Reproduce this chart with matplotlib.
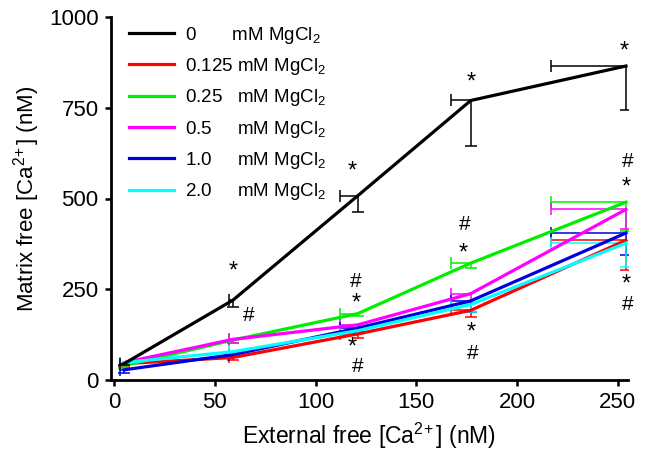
import numpy as np
import matplotlib
matplotlib.use("Agg")
import matplotlib.pyplot as plt

plt.rcParams['font.family'] = ['Liberation Sans', 'DejaVu Sans']
plt.rcParams['mathtext.fontset'] = 'custom'
plt.rcParams['mathtext.rm'] = 'Liberation Sans'
plt.rcParams['mathtext.it'] = 'Liberation Sans:italic'
plt.rcParams['mathtext.bf'] = 'Liberation Sans:bold'

# ---- data ----
x_ext = [5, 59, 121, 177, 254]
series_labels = ["0", "0.125", "0.25", "0.5", "1.0", "2.0"]
series_colors = ["#000000", "#ff0000", "#00ee00", "#ff00ff", "#0000dd", "#00ffff"]

y_0 = [45, 220, 508, 770, 865]
y_0125 = [45, 62, 127, 192, 385]
y_025 = [40, 110, 183, 322, 490]
y_05 = [48, 112, 152, 238, 470]
y_10 = [28, 70, 143, 218, 405]
y_20 = [48, 78, 136, 208, 377]

yerr_0 = [5, 20, 45, 125, 122]
yerr_0125 = [8, 8, 10, 18, 82]
yerr_025 = [8, 8, 8, 14, 80]
yerr_05 = [8, 10, 12, 25, 55]
yerr_10 = [8, 8, 12, 30, 60]
yerr_20 = [8, 8, 10, 22, 65]

xerr_0 = [2, 2, 9, 10, 37]
xerr_col = [2, 2, 9, 10, 37]

ys = [y_0, y_0125, y_025, y_05, y_10, y_20]
yerrs = [yerr_0, yerr_0125, yerr_025, yerr_05, yerr_10, yerr_20]
xerrs = [xerr_0, xerr_col, xerr_col, xerr_col, xerr_col, xerr_col]

# significance marks
mark_x = [59, 67, 118, 120, 120, 118, 121, 177, 174, 173, 177, 178, 253, 255, 254, 254, 255]
mark_y = [298, 179, 574, 272, 210, 90, 36, 819, 429, 348, 131, 72, 904, 603, 530, 264, 207]
mark_s = ["*", "#", "*", "#", "*", "*", "#", "*", "#", "*", "*", "#", "*", "#", "*", "*", "#"]

xticks = [0, 50, 100, 150, 200, 250]
yticks = [0, 250, 500, 750, 1000]

# ---- figure ----
fig = plt.figure(figsize=(6.48, 4.66), dpi=100)
ax = fig.add_axes([111/648, 1-380/466, (628-111)/648, (380-17)/466])

x = np.array(x_ext, dtype=float)
order = [1, 2, 3, 4, 5, 0]
handles = {}
for i in order:
    y = np.array(ys[i], dtype=float)
    ye = np.array(yerrs[i], dtype=float)
    xe = np.array(xerrs[i], dtype=float)
    cont = ax.errorbar(x, y, yerr=[ye, np.zeros_like(ye)], xerr=[xe, np.zeros_like(xe)],
                       color=series_colors[i], lw=2.3, elinewidth=1.1, capsize=4.5,
                       capthick=1.1, zorder=3 if i else 4)
    line, caplines, barcols = cont.lines
    for cl in caplines:
        xd, yd = cl.get_data()
        if np.allclose(np.asarray(xd, float), x) and np.allclose(np.asarray(yd, float), y):
            cl.set_visible(False)
    handles[i] = line

pad = {"0": " " * 7, "0.125": " ", "0.25": " " * 3, "0.5": " " * 5, "1.0": " " * 5, "2.0": " " * 5}
leg_labels = [series_labels[i] + pad[series_labels[i]] + r"mM MgCl$_2$" for i in range(6)]
leg = ax.legend([handles[i] for i in range(6)], leg_labels, loc="upper left",
                bbox_to_anchor=(0.01, 1.015), frameon=False, fontsize=13.5,
                handlelength=2.4, handletextpad=0.55, labelspacing=0.55,
                borderaxespad=0.3)
for h in leg.legend_handles:
    h.set_linewidth(2.3)

for mx, my, ms in zip(mark_x, mark_y, mark_s):
    ax.text(mx, my, ms, fontsize=17 if ms == "*" else 15, ha="center",
            va="center", color="black")

ax.set_xlim(-1.5, 255)
ax.set_ylim(0, 1000)
ax.set_xticks(xticks)
ax.set_yticks(yticks)
ax.tick_params(direction="out", length=4, width=1.8, labelsize=16, pad=5)
for s in ["top", "right"]:
    ax.spines[s].set_visible(False)
for s in ["left", "bottom"]:
    ax.spines[s].set_linewidth(2.0)

ax.set_xlabel(r"External free [Ca$^{2\!+}$] (nM)", fontsize=16.5, labelpad=5)
ax.set_ylabel(r"Matrix free [Ca$^{2\!+}$] (nM)", fontsize=16, labelpad=5)

fig.savefig("out.png", dpi=100)
